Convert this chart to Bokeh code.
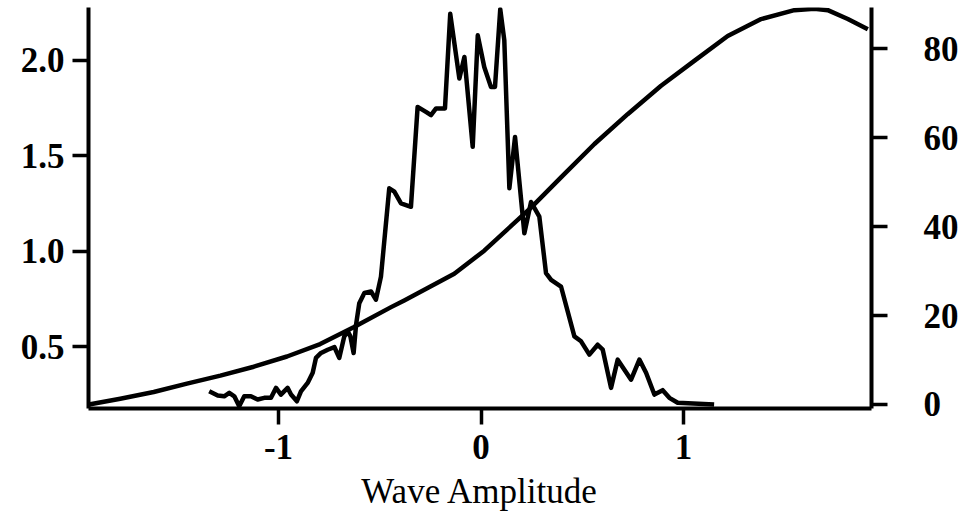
from bokeh.plotting import figure
from bokeh.models import Range1d, LinearAxis, FixedTicker, PrintfTickFormatter
from bokeh.embed import file_html
from bokeh.resources import INLINE

# Noisy distribution (left axis)
amp_noisy = [-1.342, -1.300, -1.268, -1.243, -1.218, -1.194, -1.169, -1.136, -1.103, -1.070,
             -1.037, -1.012, -0.988, -0.955, -0.938, -0.909, -0.889, -0.856, -0.831, -0.815,
             -0.790, -0.757, -0.724, -0.700, -0.675, -0.658, -0.645, -0.629, -0.617, -0.601,
             -0.576, -0.543, -0.519, -0.494, -0.453, -0.428, -0.395, -0.346, -0.313, -0.272,
             -0.247, -0.222, -0.178, -0.152, -0.107, -0.082, -0.041, -0.016, 0.016, 0.049,
             0.069, 0.095, 0.115, 0.140, 0.168, 0.214, 0.247, 0.288, 0.321, 0.346,
             0.395, 0.461, 0.494, 0.535, 0.576, 0.601, 0.642, 0.675, 0.741, 0.782,
             0.815, 0.856, 0.897, 0.930, 0.971, 1.151]
density = [0.266, 0.244, 0.240, 0.258, 0.240, 0.188, 0.240, 0.240, 0.223, 0.232,
           0.232, 0.284, 0.249, 0.284, 0.249, 0.214, 0.266, 0.310, 0.363, 0.441,
           0.467, 0.484, 0.498, 0.441, 0.554, 0.580, 0.554, 0.467, 0.615, 0.728,
           0.781, 0.789, 0.746, 0.867, 1.330, 1.312, 1.251, 1.233, 1.756, 1.730,
           1.713, 1.748, 1.748, 2.244, 1.905, 2.018, 1.547, 2.131, 1.965, 1.861,
           1.861, 2.268, 2.105, 1.330, 1.599, 1.094, 1.258, 1.181, 0.885, 0.850,
           0.815, 0.554, 0.528, 0.458, 0.510, 0.484, 0.284, 0.432, 0.327, 0.432,
           0.363, 0.249, 0.272, 0.232, 0.206, 0.197]

# Smooth curve (right axis)
amp_curve = [-1.936, -1.781, -1.616, -1.452, -1.287, -1.122, -0.958, -0.794, -0.629, -0.444,
             -0.379, -0.132, 0.016, 0.247, 0.395, 0.560, 0.724, 0.889, 1.053, 1.218,
             1.383, 1.547, 1.646, 1.712, 1.811, 1.910]
curve_val = [0.0, 1.3, 2.8, 4.7, 6.5, 8.5, 10.8, 13.6, 17.4, 21.9,
             23.4, 29.4, 34.6, 44.3, 51.1, 58.6, 65.3, 71.7, 77.3, 82.9,
             86.7, 88.7, 89.0, 88.7, 86.7, 84.4]

x_ticks = [-1, 0, 1]
left_ticks = [0.5, 1.0, 1.5, 2.0]
right_ticks = [0, 20, 40, 60, 80]

FONT = "Liberation Serif"

p = figure(width=962, height=515, output_backend="svg", toolbar_location=None,
           x_range=Range1d(-1.938, 1.928), y_range=Range1d(0.176, 2.277),
           min_border_left=88, min_border_right=91, min_border_top=7, min_border_bottom=107)
p.extra_y_ranges = {"right": Range1d(-0.9, 89.3)}
p.outline_line_color = None
p.xgrid.visible = False
p.ygrid.visible = False
p.background_fill_color = "white"
p.border_fill_color = "white"

p.line(amp_noisy, density, line_color="black", line_width=4.5, line_join="round")
p.line(amp_curve, curve_val, line_color="black", line_width=4.5, line_join="round",
       y_range_name="right")

right_axis = LinearAxis(y_range_name="right")
p.add_layout(right_axis, "right")

for ax in [p.xaxis[0], p.yaxis[0], right_axis]:
    ax.axis_line_color = "black"
    ax.axis_line_width = 4
    ax.major_tick_line_color = "black"
    ax.major_tick_line_width = 3.5
    ax.major_tick_out = 16
    ax.major_tick_in = 0
    ax.minor_tick_line_color = None
    ax.major_label_text_font = FONT
    ax.major_label_text_font_size = "35px"
    ax.major_label_text_font_style = "bold"
    ax.major_label_text_color = "black"

p.xaxis[0].ticker = FixedTicker(ticks=x_ticks)
p.xaxis[0].formatter = PrintfTickFormatter(format="%d")
p.xaxis[0].major_label_standoff = 10
p.xaxis[0].axis_label = "Wave Amplitude"
p.xaxis[0].axis_label_text_font = FONT
p.xaxis[0].axis_label_text_font_size = "35px"
p.xaxis[0].axis_label_text_font_style = "normal"
p.xaxis[0].axis_label_text_color = "black"
p.xaxis[0].axis_label_standoff = 10

p.yaxis[0].ticker = FixedTicker(ticks=left_ticks)
p.yaxis[0].formatter = PrintfTickFormatter(format="%.1f")
p.yaxis[0].major_label_standoff = 8

right_axis.ticker = FixedTicker(ticks=right_ticks)
right_axis.formatter = PrintfTickFormatter(format="%d")
right_axis.major_label_standoff = 36

open("out.html", "w").write(file_html(p, INLINE))
